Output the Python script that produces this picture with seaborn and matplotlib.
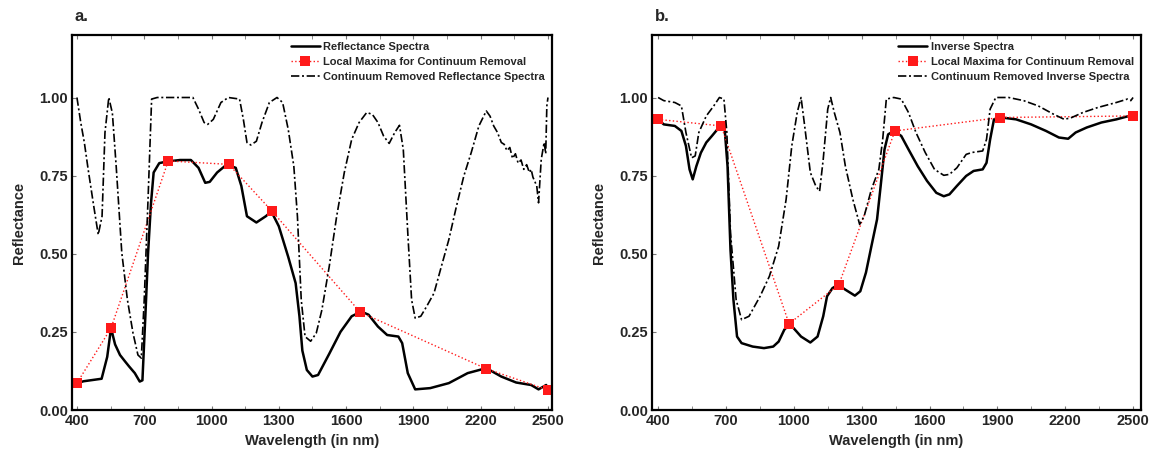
import numpy as np
import pandas as pd
import matplotlib
matplotlib.use("Agg")
import matplotlib.pyplot as plt
import seaborn as sns

# ---------------- Panel a data ----------------
a_refl_wl = [400, 430, 470, 510, 535, 552, 570, 592, 615, 633, 658, 680, 692, 705, 717, 730, 742, 767,
             800, 860, 908, 942, 972, 992, 1025, 1067, 1108, 1133, 1158, 1200, 1242, 1267, 1300, 1342,
             1375, 1392, 1405, 1425, 1450, 1475, 1525, 1575, 1625, 1667, 1700, 1742, 1783, 1833, 1850,
             1875, 1908, 1975, 2058, 2142, 2225, 2292, 2358, 2425, 2458, 2480, 2492, 2500]
a_refl_val = [0.086, 0.092, 0.096, 0.10, 0.17, 0.262, 0.21, 0.176, 0.155, 0.139, 0.118, 0.091, 0.095,
              0.30, 0.50, 0.66, 0.76, 0.79, 0.795, 0.80, 0.80, 0.775, 0.727, 0.73, 0.76, 0.785, 0.775,
              0.717, 0.62, 0.60, 0.62, 0.635, 0.588, 0.49, 0.406, 0.30, 0.19, 0.128, 0.107, 0.112,
              0.18, 0.25, 0.30, 0.315, 0.305, 0.267, 0.24, 0.235, 0.214, 0.118, 0.066, 0.07, 0.086,
              0.118, 0.134, 0.107, 0.088, 0.08, 0.066, 0.075, 0.08, 0.053]

a_max_wl = [400, 552, 807, 1077, 1270, 1663, 2225, 2500]
a_max_val = [0.086, 0.262, 0.797, 0.786, 0.636, 0.313, 0.132, 0.064]

a_cr_wl = [400, 417, 433, 450, 475, 495, 512, 525, 542, 558, 575, 600, 625, 650, 672, 687, 700, 717,
           733, 758, 917, 942, 967, 983, 1008, 1042, 1075, 1125, 1142, 1158, 1175, 1200, 1225, 1258,
           1292, 1317, 1342, 1367, 1383, 1400, 1417, 1442, 1467, 1492, 1525, 1558, 1592, 1625, 1658,
           1692, 1717, 1742, 1767, 1792, 1817, 1838, 1855, 1875, 1892, 1908, 1933, 1958, 1992, 2025,
           2058, 2092, 2125, 2158, 2192, 2225, 2242, 2258, 2275, 2292, 2305, 2317, 2330, 2342, 2355,
           2367, 2380, 2392, 2405, 2417, 2425, 2433, 2450, 2458, 2470, 2483, 2490, 2495, 2500]
a_cr_val = [1.0, 0.92, 0.856, 0.77, 0.652, 0.561, 0.62, 0.888, 1.0, 0.95, 0.78, 0.503, 0.353, 0.246,
            0.176, 0.166, 0.353, 0.674, 0.995, 1.0, 1.0, 0.963, 0.92, 0.914, 0.93, 0.984, 1.0, 0.995,
            0.93, 0.856, 0.848, 0.86, 0.92, 0.984, 1.0, 0.984, 0.898, 0.78, 0.62, 0.353, 0.235, 0.22,
            0.246, 0.32, 0.46, 0.62, 0.76, 0.866, 0.92, 0.952, 0.946, 0.92, 0.877, 0.853, 0.888, 0.911,
            0.834, 0.567, 0.353, 0.294, 0.30, 0.33, 0.374, 0.46, 0.545, 0.652, 0.749, 0.824, 0.909,
            0.957, 0.94, 0.909, 0.888, 0.856, 0.85, 0.83, 0.84, 0.805, 0.82, 0.79, 0.80, 0.77, 0.785,
            0.76, 0.77, 0.745, 0.717, 0.663, 0.802, 0.856, 0.82, 0.973, 1.0]

# ---------------- Panel b data ----------------
b_inv_wl = [400, 425, 474, 503, 523, 539, 553, 569, 589, 613, 638, 662, 679, 695, 707, 720, 733, 749,
            769, 818, 868, 909, 933, 958, 979, 999, 1032, 1073, 1105, 1130, 1147, 1171, 1196, 1228,
            1270, 1294, 1319, 1343, 1368, 1384, 1401, 1417, 1442, 1475, 1507, 1548, 1589, 1630, 1663,
            1688, 1721, 1762, 1795, 1835, 1852, 1868, 1885, 1918, 1983, 2049, 2115, 2172, 2213, 2246,
            2295, 2360, 2426, 2483, 2500]
b_inv_val = [0.93, 0.914, 0.909, 0.893, 0.845, 0.77, 0.738, 0.78, 0.823, 0.856, 0.877, 0.898, 0.909,
             0.893, 0.78, 0.513, 0.353, 0.235, 0.214, 0.203, 0.198, 0.203, 0.219, 0.257, 0.273, 0.262,
             0.235, 0.216, 0.235, 0.30, 0.364, 0.39, 0.401, 0.385, 0.366, 0.38, 0.44, 0.524, 0.61,
             0.717, 0.834, 0.882, 0.893, 0.877, 0.834, 0.78, 0.733, 0.695, 0.684, 0.69, 0.717, 0.749,
             0.765, 0.77, 0.791, 0.866, 0.93, 0.936, 0.93, 0.914, 0.893, 0.872, 0.868, 0.888, 0.904,
             0.92, 0.93, 0.941, 0.945]

b_max_wl = [400, 679, 979, 1199, 1447, 1913, 2500]
b_max_val = [0.93, 0.909, 0.276, 0.401, 0.893, 0.936, 0.941]

b_cr_wl = [400, 425, 474, 503, 523, 548, 564, 580, 613, 646, 671, 691, 704, 720, 745, 769, 802, 851,
           892, 933, 966, 991, 1015, 1032, 1048, 1073, 1097, 1114, 1130, 1150, 1163, 1179, 1204, 1228,
           1261, 1291, 1311, 1343, 1376, 1393, 1409, 1442, 1475, 1507, 1540, 1581, 1622, 1663, 1688,
           1721, 1762, 1787, 1835, 1852, 1868, 1893, 1950, 2016, 2081, 2147, 2196, 2229, 2278, 2344,
           2426, 2475, 2490, 2500]
b_cr_val = [1.0, 0.99, 0.984, 0.973, 0.888, 0.807, 0.813, 0.888, 0.941, 0.973, 1.0, 0.995, 0.888,
            0.567, 0.353, 0.289, 0.30, 0.364, 0.428, 0.524, 0.674, 0.845, 0.952, 1.0, 0.909, 0.76,
            0.717, 0.70, 0.802, 0.963, 1.0, 0.952, 0.888, 0.78, 0.674, 0.594, 0.62, 0.706, 0.77,
            0.866, 0.995, 1.0, 0.995, 0.952, 0.888, 0.824, 0.77, 0.751, 0.754, 0.775, 0.818, 0.824,
            0.829, 0.866, 0.963, 1.0, 1.0, 0.99, 0.973, 0.947, 0.93, 0.936, 0.952, 0.968, 0.984,
            0.995, 0.99, 1.0]

x_ticks = [400, 700, 1000, 1300, 1600, 1900, 2200, 2500]
y_ticks = [0.00, 0.25, 0.50, 0.75, 1.00]

labels_a = ["Reflectance Spectra", "Local Maxima for Continuum Removal",
            "Continuum Removed Reflectance Spectra"]
labels_b = ["Inverse Spectra", "Local Maxima for Continuum Removal",
            "Continuum Removed Inverse Spectra"]

# ---------------- Style ----------------
sns.set_style("white")
plt.rcParams['font.family'] = ['Liberation Sans', 'DejaVu Sans']
plt.rcParams['font.weight'] = 'bold'

fig = plt.figure(figsize=(11.57, 4.63), dpi=100)
ax_a = fig.add_axes([72 / 1157, 53 / 463, 480 / 1157, 375 / 463])
ax_b = fig.add_axes([652 / 1157, 53 / 463, 489 / 1157, 375 / 463])

DASHDOT = [5, 1.6, 1.2, 1.6]


def draw(ax, wl1, v1, wl2, v2, wl3, v3, labels, xlim, tag):
    sns.lineplot(x=wl1, y=v1, ax=ax, color='black', linewidth=1.8, label=labels[0],
                 sort=False, estimator=None)
    sns.lineplot(x=wl2, y=v2, ax=ax, color='#ff1a1a', linewidth=1.0, linestyle=':',
                 marker='s', markersize=7, markeredgewidth=0, label=labels[1],
                 sort=False, estimator=None)
    sns.lineplot(x=wl3, y=v3, ax=ax, color='black', linewidth=1.2, label=labels[2],
                 sort=False, estimator=None)
    ax.lines[-1].set_dashes(DASHDOT)
    ax.set_xlim(*xlim)
    ax.set_ylim(0, 1.2)
    ax.set_xticks(x_ticks)
    ax.set_xticklabels([str(t) for t in x_ticks])
    ax.set_yticks(y_ticks)
    ax.set_yticklabels([f"{t:.2f}" for t in y_ticks])
    ax.set_xticks(np.arange(550, 2500, 300), minor=True)
    ax.tick_params(axis='both', which='both', direction='in', length=3, color='#777777',
                   labelsize=10.5, pad=3, top=True, bottom=True, left=True)
    for lab in ax.get_xticklabels() + ax.get_yticklabels():
        lab.set_fontweight('bold')
    ax.set_xlabel("Wavelength (in nm)", fontsize=10.5, fontweight='bold', labelpad=4)
    ax.set_ylabel("Reflectance", fontsize=10.5, fontweight='bold', labelpad=9)
    for s in ax.spines.values():
        s.set_color('black')
        s.set_linewidth(1.6)
    leg = ax.legend(loc='upper right', frameon=False, handlelength=2.6,
                    handletextpad=0.3, labelspacing=0.45, borderaxespad=0.25,
                    prop={'weight': 'bold', 'size': 8})
    leg.get_lines()[2].set_dashes(DASHDOT)
    ax.text(0.005, 1.03, tag, transform=ax.transAxes, fontsize=12, fontweight='bold',
            ha='left', va='bottom')


draw(ax_a, a_refl_wl, a_refl_val, a_max_wl, a_max_val, a_cr_wl, a_cr_val, labels_a,
     (378, 2518), "a.")
draw(ax_b, b_inv_wl, b_inv_val, b_max_wl, b_max_val, b_cr_wl, b_cr_val, labels_b,
     (373, 2535), "b.")

fig.savefig("out.png", dpi=100)
